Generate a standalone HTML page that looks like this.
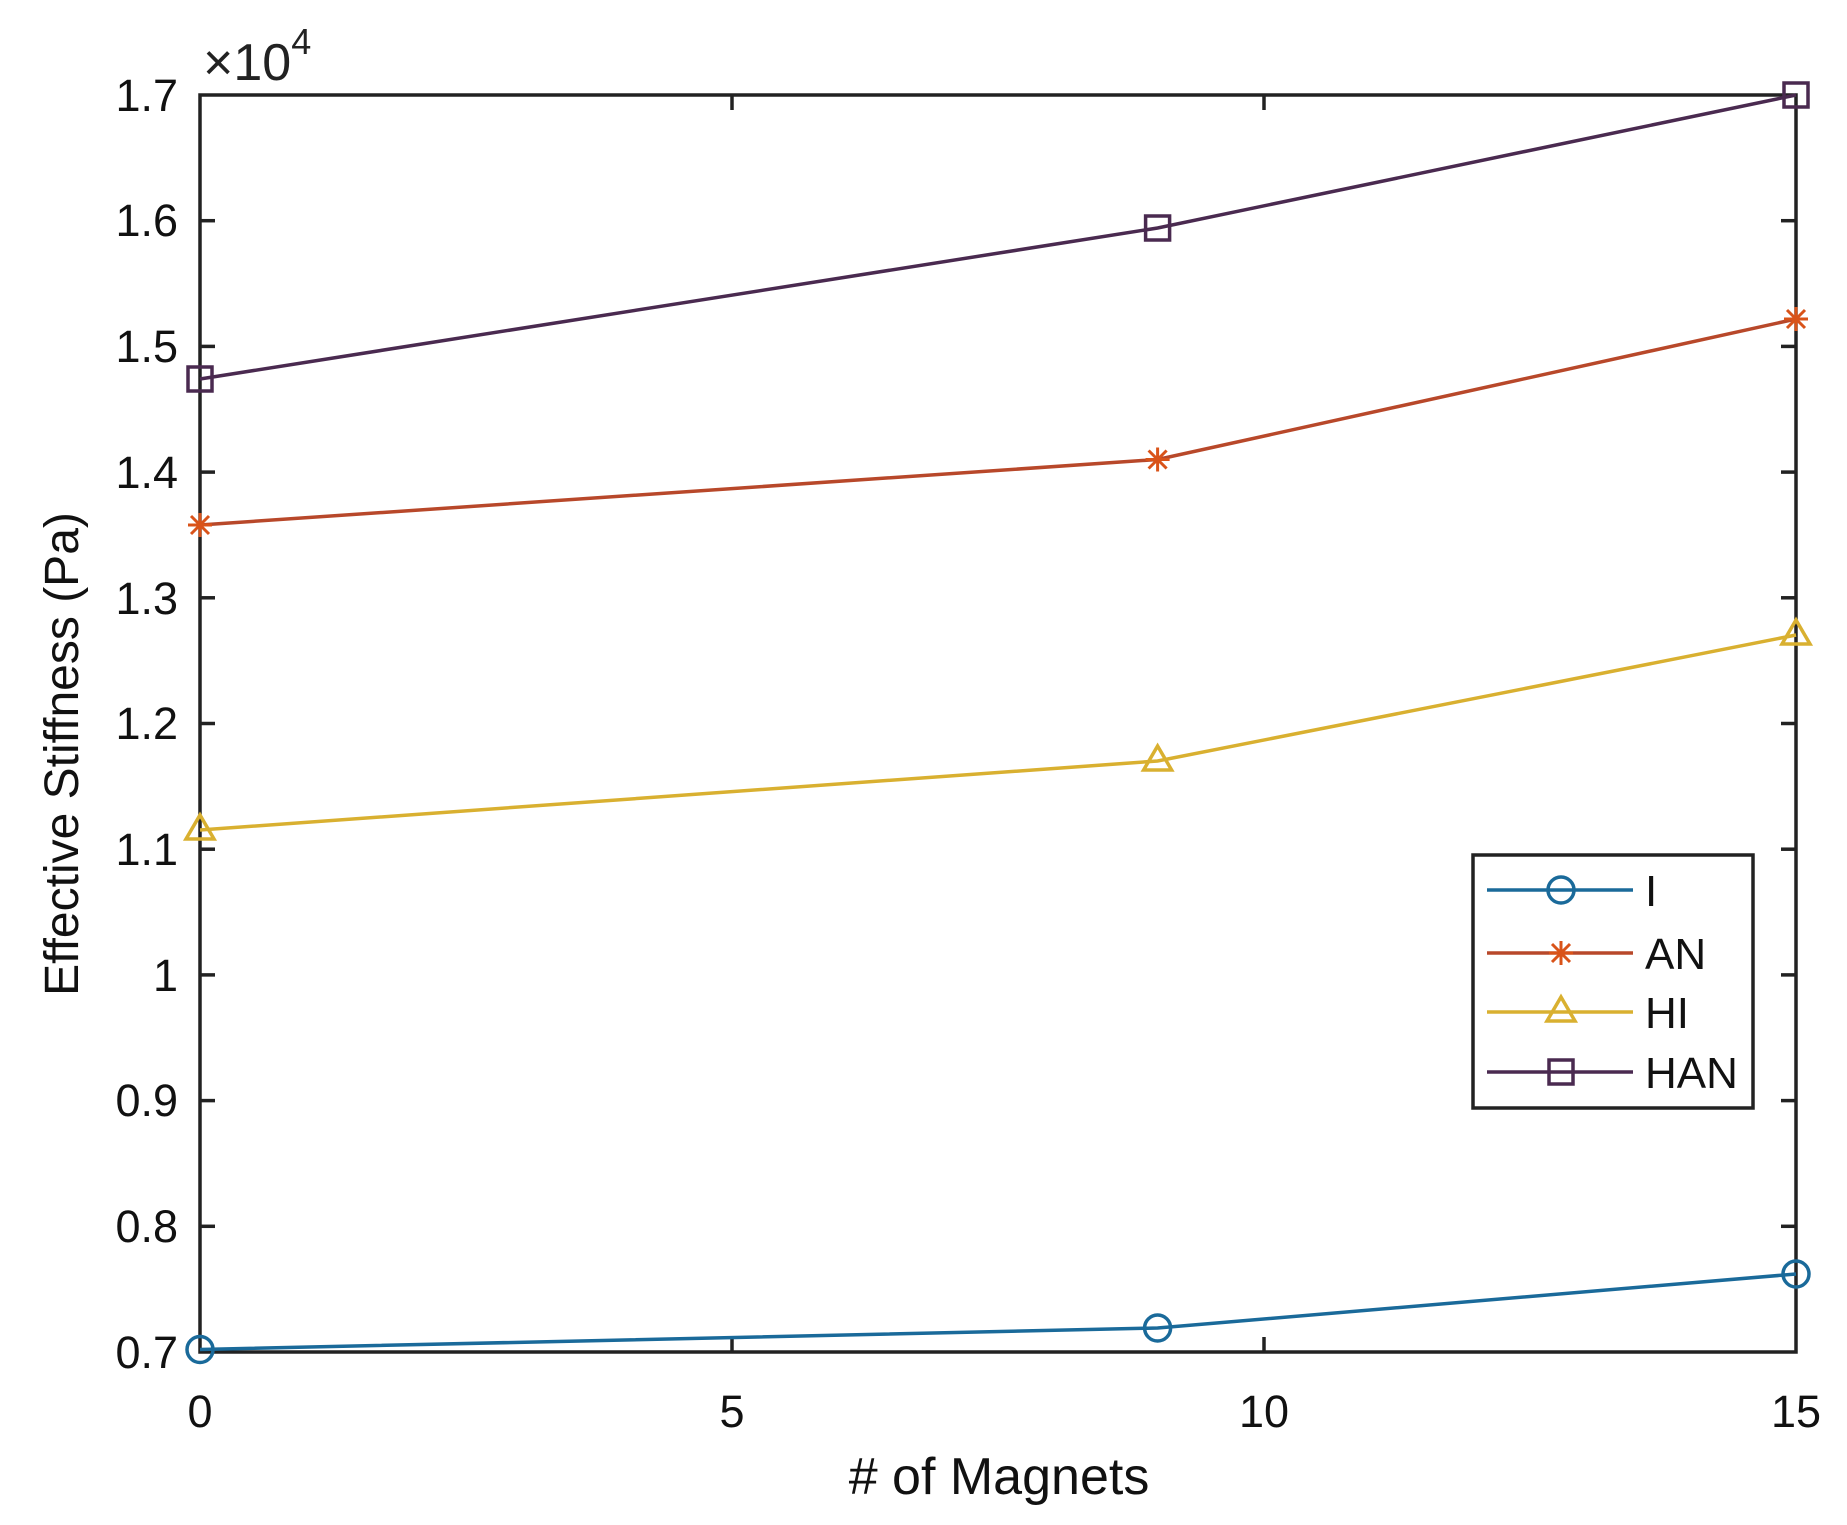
<!DOCTYPE html>
<html><head><meta charset="utf-8"><style>
html,body{margin:0;padding:0;background:#fff;}
svg{display:block;font-family:"Liberation Sans",Arial,sans-serif;}
</style></head><body>
<svg width="1847" height="1525" viewBox="0 0 1847 1525" xmlns="http://www.w3.org/2000/svg">
<rect width="1847" height="1525" fill="#fff"/>
<g stroke="#222" stroke-width="3.5">
<line x1="200" y1="220.7" x2="215" y2="220.7"/><line x1="200" y1="346.4" x2="215" y2="346.4"/>
<line x1="200" y1="472.1" x2="215" y2="472.1"/><line x1="200" y1="597.8" x2="215" y2="597.8"/>
<line x1="200" y1="723.5" x2="215" y2="723.5"/><line x1="200" y1="849.2" x2="215" y2="849.2"/>
<line x1="200" y1="974.9" x2="215" y2="974.9"/><line x1="200" y1="1100.6" x2="215" y2="1100.6"/>
<line x1="200" y1="1226.3" x2="215" y2="1226.3"/>
<line x1="1781" y1="220.7" x2="1796" y2="220.7"/><line x1="1781" y1="346.4" x2="1796" y2="346.4"/>
<line x1="1781" y1="472.1" x2="1796" y2="472.1"/><line x1="1781" y1="597.8" x2="1796" y2="597.8"/>
<line x1="1781" y1="723.5" x2="1796" y2="723.5"/><line x1="1781" y1="849.2" x2="1796" y2="849.2"/>
<line x1="1781" y1="974.9" x2="1796" y2="974.9"/><line x1="1781" y1="1100.6" x2="1796" y2="1100.6"/>
<line x1="1781" y1="1226.3" x2="1796" y2="1226.3"/>
<line x1="732" y1="1352" x2="732" y2="1337"/><line x1="1264" y1="1352" x2="1264" y2="1337"/>
<line x1="732" y1="95" x2="732" y2="110"/><line x1="1264" y1="95" x2="1264" y2="110"/>
<rect x="200" y="95" width="1596" height="1257" fill="none"/>
</g>
<g fill="none" stroke-width="3.5">
<polyline points="200,1349.5 1157.6,1328 1796,1274" stroke="#1a6a9a"/>
<polyline points="200,525 1157.6,459.5 1796,319" stroke="#b8482a"/>
<polyline points="200,830 1157.6,761 1796,635" stroke="#d9b030"/>
<polyline points="200,379 1157.6,228 1796,95" stroke="#4a2a50"/>
<g stroke="#1a6a9a"><circle cx="200" cy="1349.5" r="13"/><circle cx="1157.6" cy="1328" r="13"/><circle cx="1796" cy="1274" r="13"/></g>
<g stroke="#d95319" stroke-width="3">
<path d="M188,525h24M200,513v24M191,516l18,18M209,516l-18,18"/>
<path d="M1145.6,459.5h24M1157.6,447.5v24M1148.6,450.5l18,18M1166.6,450.5l-18,18"/>
<path d="M1784,319h24M1796,307v24M1787,310l18,18M1805,310l-18,18"/>
</g>
<g stroke="#d9b030"><path d="M200,815l14,24h-28z"/><path d="M1157.6,746l14,24h-28z"/><path d="M1796,620l14,24h-28z"/></g>
<g stroke="#4a2a50"><rect x="188" y="367" width="24" height="24"/><rect x="1145.6" y="216" width="24" height="24"/><rect x="1784" y="83" width="24" height="24"/></g>
</g>
<g font-size="45" fill="#111" text-anchor="end">
<text x="178" y="111">1.7</text><text x="178" y="236">1.6</text><text x="178" y="362">1.5</text>
<text x="178" y="488">1.4</text><text x="178" y="614">1.3</text><text x="178" y="739">1.2</text>
<text x="178" y="865">1.1</text><text x="178" y="991">1</text><text x="178" y="1116">0.9</text>
<text x="178" y="1242">0.8</text><text x="178" y="1368">0.7</text>
</g>
<g font-size="45" fill="#111" text-anchor="middle">
<text x="200" y="1427">0</text><text x="732" y="1427">5</text><text x="1264" y="1427">10</text><text x="1796" y="1427">15</text>
<text x="999" y="1494" font-size="52"># of Magnets</text>
</g>
<text transform="translate(78,754) rotate(-90)" font-size="48" fill="#111" text-anchor="middle">Effective Stiffness (Pa)</text>
<text x="203" y="80" font-size="52" fill="#222">×10<tspan font-size="36" dy="-26">4</tspan></text>
<rect x="1473" y="855" width="280" height="253" fill="#fff" stroke="#222" stroke-width="3.5"/>
<g stroke-width="3.5" fill="none">
<line x1="1487" y1="890" x2="1633" y2="890" stroke="#1a6a9a"/><circle cx="1561" cy="890" r="13" stroke="#1a6a9a"/>
<line x1="1487" y1="953" x2="1633" y2="953" stroke="#b8482a"/>
<path d="M1549,953h24M1561,941v24M1552,944l18,18M1570,944l-18,18" stroke="#d95319" stroke-width="3"/>
<line x1="1487" y1="1012" x2="1633" y2="1012" stroke="#d9b030"/><path d="M1561,997l14,24h-28z" stroke="#d9b030"/>
<line x1="1487" y1="1072" x2="1633" y2="1072" stroke="#4a2a50"/><rect x="1549" y="1060" width="24" height="24" stroke="#4a2a50"/>
</g>
<g font-size="44" fill="#111">
<text x="1645" y="906">I</text><text x="1645" y="969">AN</text><text x="1645" y="1028">HI</text><text x="1645" y="1088">HAN</text>
</g>
</svg>
</body></html>
